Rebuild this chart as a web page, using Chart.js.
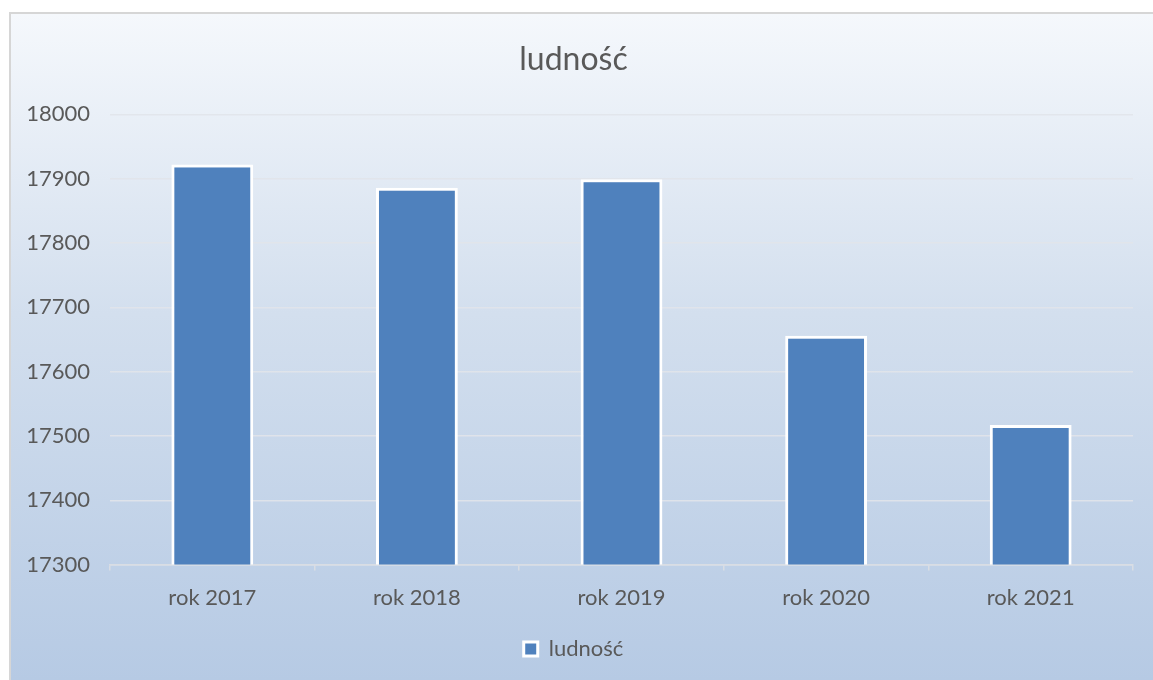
<!DOCTYPE html>
<html>
<head>
<meta charset="utf-8">
<script src="https://cdn.jsdelivr.net/npm/chart.js@4.4.0/dist/chart.umd.min.js"></script>
<style>
  html, body { margin: 0; padding: 0; background: #fff; overflow: hidden; }
  #wrap { width: 1153px; height: 680px; }
</style>
</head>
<body>
<div id="wrap"><canvas id="chart" width="1153" height="680"></canvas></div>
<script>
const categories = ['rok 2017', 'rok 2018', 'rok 2019', 'rok 2020', 'rok 2021'];
const ludnosc = [17922, 17886, 17899, 17656, 17517];
const yMin = 17300;
const yMax = 18000;
const yStep = 100;

const textColor = '#595959';
const fontFamily = 'Lato, "Open Sans", sans-serif';

// gradient panel with a thin grey frame, drawn behind everything
const panelBg = {
    id: 'panelBg',
    beforeDraw(chart) {
        const c = chart.ctx;
        const w = chart.width, h = chart.height;
        c.save();
        c.fillStyle = '#ffffff';
        c.fillRect(0, 0, w, h);
        c.fillStyle = '#d6d6d6';
        c.fillRect(9, 12, w - 9, h - 12);
        const g = c.createLinearGradient(0, 14, 0, h);
        g.addColorStop(0, '#f5f8fc');
        g.addColorStop(0.45, '#d3dfee');
        g.addColorStop(1, '#b6cae4');
        c.fillStyle = g;
        c.fillRect(11, 14, w, h);
        c.restore();
    }
};

const ctx = document.getElementById('chart').getContext('2d');
const chart = new Chart(ctx, {
    type: 'bar',
    data: {
        labels: categories,
        datasets: [{
            label: 'ludność',
            data: ludnosc,
            backgroundColor: '#4f81bd',
            borderColor: '#ffffff',
            borderWidth: 3,
            barPercentage: 0.4,
            categoryPercentage: 1.0
        }]
    },
    options: {
        responsive: false,
        animation: false,
        layout: { padding: { left: 14, right: 20, top: 14, bottom: 10 } },
        plugins: {
            title: {
                display: true,
                text: 'ludność',
                color: textColor,
                font: { family: fontFamily, size: 32, weight: 'normal' },
                padding: { top: 26, bottom: 36 }
            },
            legend: {
                display: true,
                position: 'bottom',
                labels: {
                    color: textColor,
                    font: { family: fontFamily, size: 22 },
                    boxWidth: 14,
                    boxHeight: 14,
                    padding: 13
                }
            },
            tooltip: { enabled: false }
        },
        scales: {
            x: {
                grid: {
                    display: true,
                    drawOnChartArea: false,
                    drawTicks: true,
                    tickLength: 6,
                    color: '#d9dde4',
                    lineWidth: 1.5
                },
                border: { display: true, color: '#d9dde4', width: 1.5 },
                ticks: {
                    color: textColor,
                    font: { family: fontFamily, size: 22 },
                    padding: 14
                }
            },
            y: {
                min: yMin,
                max: yMax,
                grid: {
                    color: 'rgba(225,228,234,0.9)',
                    lineWidth: 1.5,
                    drawTicks: false
                },
                border: { display: false },
                ticks: {
                    stepSize: yStep,
                    color: textColor,
                    font: { family: fontFamily, size: 22 },
                    padding: 20,
                    callback: (v) => String(v)
                },
                afterFit(scale) { scale.width = 96; }
            }
        }
    },
    plugins: [panelBg]
});
</script>
</body>
</html>
